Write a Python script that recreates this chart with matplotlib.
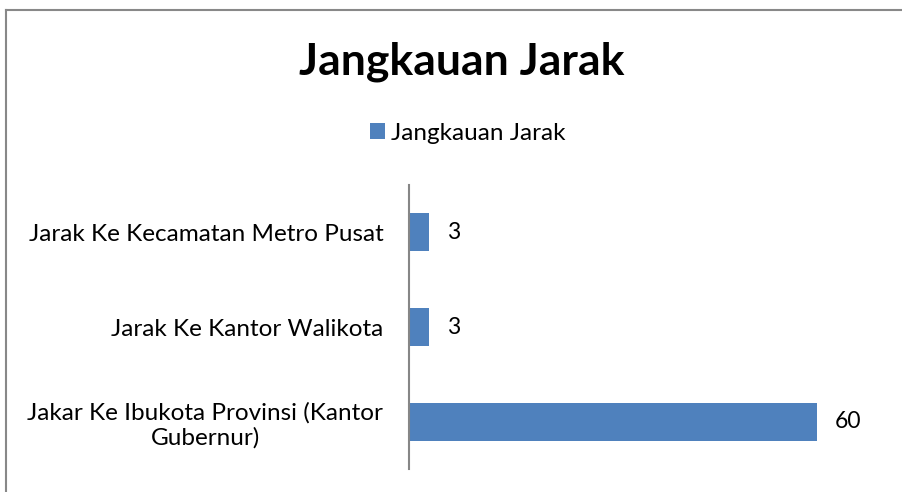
import matplotlib
matplotlib.use("Agg")
import matplotlib.pyplot as plt
from matplotlib.lines import Line2D

categories = ["Jakar Ke Ibukota Provinsi (Kantor\nGubernur)",
              "Jarak Ke Kantor Walikota",
              "Jarak Ke Kecamatan Metro Pusat"]
values = [60, 3, 3]
series_name = "Jangkauan Jarak"
title = "Jangkauan Jarak"

W, H = 903, 492
plt.rcParams['font.family'] = ['Lato', 'DejaVu Sans']
fig = plt.figure(figsize=(W / 100, H / 100), dpi=100)

# chart border
fig.add_artist(Line2D([6.5 / W, 6.5 / W], [0, 1 - 9.5 / H], color="#888888", lw=1.5))
fig.add_artist(Line2D([6.5 / W, 1], [1 - 9.5 / H, 1 - 9.5 / H], color="#888888", lw=1.5))

ax_l, ax_r, ax_t, ax_b = 409, 885, 185, 469
ax = fig.add_axes([ax_l / W, 1 - ax_b / H, (ax_r - ax_l) / W, (ax_b - ax_t) / H])
ypos = list(range(len(categories)))
bars = ax.barh(ypos, values, height=0.4, color="#4F81BD", label=series_name)
ax.set_xlim(0, 70)
ax.set_ylim(-0.5, len(categories) - 0.5)
ax.set_yticks(ypos)
ax.set_yticklabels(categories, fontsize=17.5, multialignment="center")
ax.tick_params(axis="y", length=0, pad=18.5)
ax.set_xticks([])
for s in ["top", "right", "bottom"]:
    ax.spines[s].set_visible(False)
ax.spines["left"].set_color("#868686")
ax.spines["left"].set_linewidth(1.5)

for y, v in zip(ypos, values):
    ax.annotate(str(v), (v, y), xytext=(12.5, 0), textcoords="offset points",
                va="center", ha="left", fontsize=16.5)

fig.text(462 / W, 1 - 62 / H, title, ha="center", va="center",
         fontsize=32, fontweight="bold")
leg = fig.legend(loc="center", bbox_to_anchor=(468 / W, 1 - 133 / H), frameon=False,
                 fontsize=17.5, handlelength=0.6, handleheight=0.6, handletextpad=0.25)

fig.savefig("out.png", dpi=100)
